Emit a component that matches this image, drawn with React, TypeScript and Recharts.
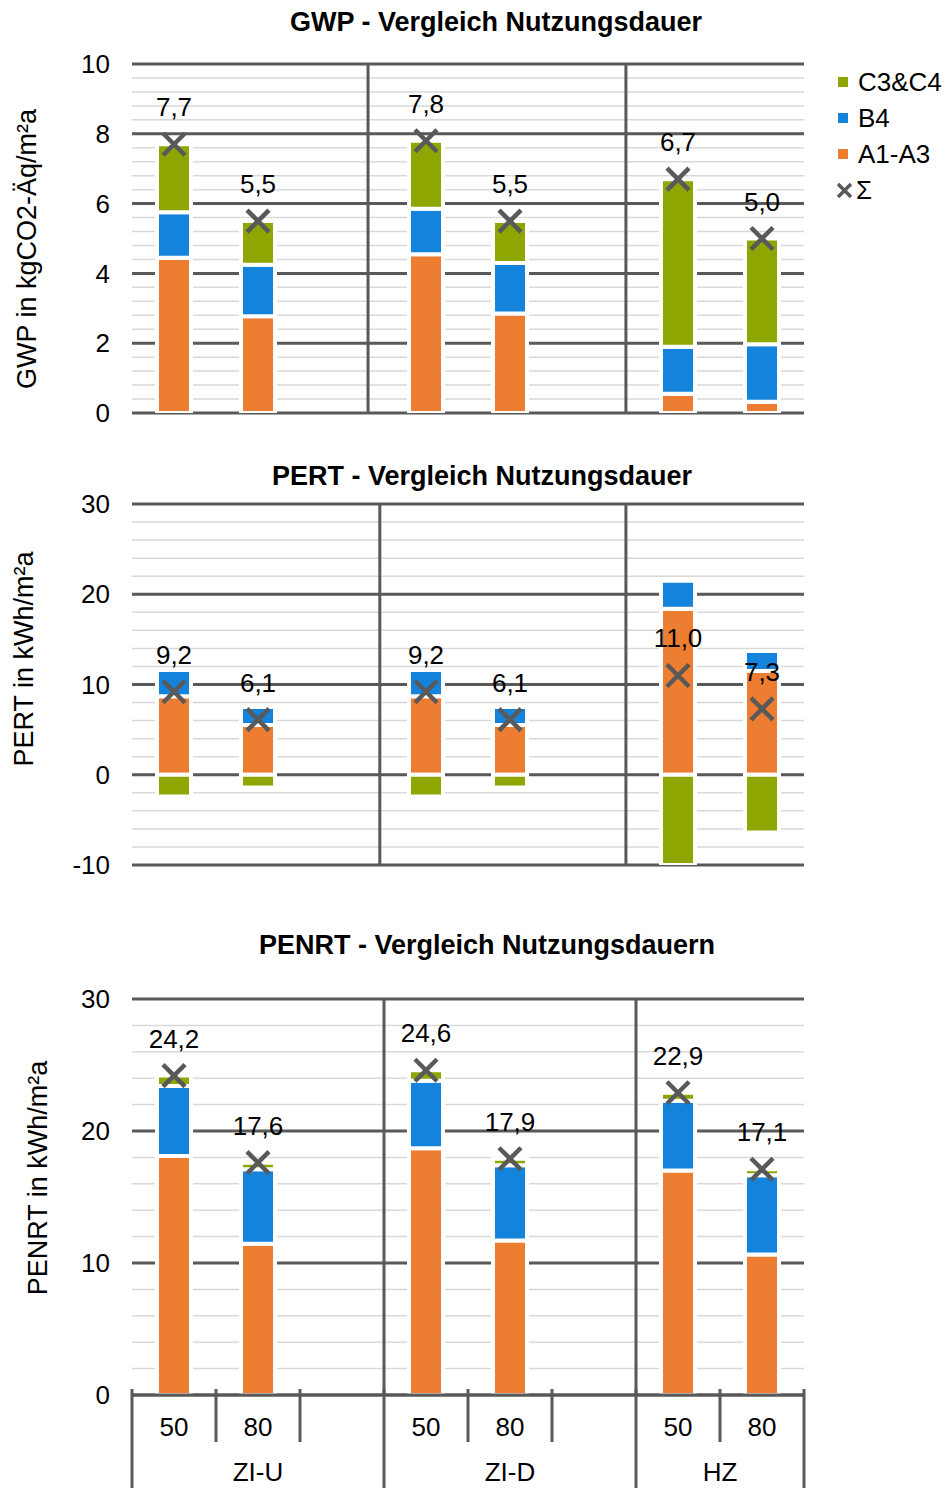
import React from "react";
import { ComposedChart, Bar, Scatter, XAxis, YAxis, CartesianGrid, ReferenceLine } from "recharts";

const FONT = "'Liberation Sans', Arial, Helvetica, sans-serif";
const ORANGE = "#ED7D31";
const BLUE = "#1383DB";
const GREEN = "#8FA500";
const DARK = "#595959";
const LIGHT = "#D9D9D9";

// eight slots along x: two durations per building type plus an empty spacer slot
const slots = ["ZI-U|50", "ZI-U|80", "ZI-U|", "ZI-D|50", "ZI-D|80", "ZI-D|", "HZ|50", "HZ|80"];
const groups = ["ZI-U", "ZI-D", "HZ"];
const groupCenters = [1.5, 4.5, 7];
const groupEdges = [0, 3, 6, 8];
const slotEdges = [0, 1, 2, 3, 4, 5, 6, 7, 8];

const seriesNames = { a: "A1-A3", b: "B4", c: "C3&C4" };

// GWP in kgCO2-Äq/m²a
const gwpA = [4.45, 2.77, null, 4.55, 2.85, null, 0.55, 0.32];
const gwpB = [1.3, 1.48, null, 1.3, 1.45, null, 1.35, 1.65];
const gwpC = [1.95, 1.25, null, 1.95, 1.2, null, 4.8, 3.03];
const gwpSum = [7.7, 5.5, null, 7.8, 5.5, null, 6.7, 5.0];
const gwpTicks = [0, 2, 4, 6, 8, 10];

// PERT in kWh/m²a
const pertA = [8.7, 5.5, null, 8.7, 5.5, null, 18.4, 11.5];
const pertB = [2.9, 2.0, null, 2.9, 2.0, null, 3.1, 2.2];
const pertC = [-2.4, -1.4, null, -2.4, -1.4, null, -10.5, -6.4];
const pertSum = [9.2, 6.1, null, 9.2, 6.1, null, 11.0, 7.3];
const pertTicks = [-10, 0, 10, 20, 30];

// PENRT in kWh/m²a
const penrtA = [18.1, 11.45, null, 18.7, 11.7, null, 17.0, 10.65];
const penrtB = [5.3, 5.65, null, 5.1, 5.7, null, 5.3, 6.0];
const penrtC = [0.8, 0.5, null, 0.8, 0.5, null, 0.6, 0.45];
const penrtSum = [24.2, 17.6, null, 24.6, 17.9, null, 22.9, 17.1];
const penrtTicks = [0, 10, 20, 30];

const fmt = (v: number) => v.toFixed(1).replace(".", ",");

function minorValues(domain: [number, number], step: number, majors: number[]) {
  const out: number[] = [];
  const n = Math.round((domain[1] - domain[0]) / step);
  for (let i = 0; i <= n; i++) {
    const v = Math.round((domain[0] + i * step) * 100) / 100;
    if (!majors.includes(v)) out.push(v);
  }
  return out;
}

function buildRows(a: (number | null)[], b: (number | null)[], c: (number | null)[], sum: (number | null)[]) {
  return slots.map((slot, i) => ({ slot, pos: i + 0.5, a: a[i], b: b[i], c: c[i], sum: sum[i] }));
}

const slotCenters = slots.map((_, i) => i + 0.5);
const frameTicks = Array.from(new Set([...slotEdges, ...slotCenters, ...groupCenters])).sort((x, y) => x - y);

function FrameTick(props: any) {
  const { x, y, payload } = props;
  const v = payload.value;
  const si = slotCenters.indexOf(v);
  const gi = groupCenters.indexOf(v);
  const slotLabel = si >= 0 ? slots[si].split("|")[1] : "";
  return (
    <g>
      {slotEdges.includes(v) && (
        <line x1={x} x2={x} y1={y - 6} y2={y + (groupEdges.includes(v) ? 93 : 47)} stroke={DARK} strokeWidth={3} />
      )}
      {slotLabel && (
        <text x={x} y={y + 41} textAnchor="middle" fontSize={26} fontFamily={FONT} fill="#000">
          {slotLabel}
        </text>
      )}
      {gi >= 0 && (
        <text x={x} y={y + 86} textAnchor="middle" fontSize={26} fontFamily={FONT} fill="#000">
          {groups[gi]}
        </text>
      )}
    </g>
  );
}

function SumMarker(props: any) {
  const { cx, cy, payload } = props;
  if (!payload || payload.sum == null || !Number.isFinite(cx) || !Number.isFinite(cy)) return <g />;
  const r = 11;
  return (
    <g>
      <path
        d={`M${cx - r},${cy - r}L${cx + r},${cy + r}M${cx - r},${cy + r}L${cx + r},${cy - r}`}
        stroke={DARK}
        strokeWidth={4.5}
        fill="none"
      />
      <text x={cx} y={cy - 28} textAnchor="middle" fontSize={26} fontFamily={FONT} fill="#000">
        {fmt(payload.sum)}
      </text>
    </g>
  );
}

type PanelProps = {
  top: number;
  height: number;
  marginTop: number;
  marginBottom: number;
  title: string;
  titleX: number;
  titleY: number;
  yLabel: string;
  yLabelX: number;
  yLabelY: number;
  domain: [number, number];
  ticks: number[];
  minorStep: number;
  rows: any[];
  separators: number[];
  showAxis: boolean;
};

function Panel(p: PanelProps) {
  const minors = minorValues(p.domain, p.minorStep, p.ticks);
  return (
    <>
      <div
        style={{
          position: "absolute",
          left: p.titleX - 300,
          top: p.titleY - 15,
          width: 600,
          lineHeight: "30px",
          textAlign: "center",
          fontFamily: FONT,
          fontWeight: "bold",
          fontSize: 27,
          color: "#000",
        }}
      >
        {p.title}
      </div>
      <div
        style={{
          position: "absolute",
          left: p.yLabelX,
          top: p.yLabelY,
          transform: "translate(-50%, -50%) rotate(-90deg)",
          whiteSpace: "nowrap",
          fontFamily: FONT,
          fontSize: 27,
          lineHeight: "30px",
          color: "#000",
        }}
      >
        {p.yLabel}
      </div>
      <div style={{ position: "absolute", left: 0, top: p.top }}>
        <ComposedChart
          width={947}
          height={p.height}
          data={p.rows}
          stackOffset="sign"
          margin={{ top: p.marginTop, right: 143, bottom: p.marginBottom, left: 0 }}
        >
          <XAxis xAxisId="slot" dataKey="slot" type="category" hide />
          <XAxis
            xAxisId="frame"
            dataKey="pos"
            type="number"
            domain={[0, 8]}
            allowDataOverflow
            ticks={frameTicks}
            interval={0}
            hide={!p.showAxis}
            height={93}
            tickSize={0}
            tickMargin={0}
            tickLine={false}
            axisLine={{ stroke: DARK, strokeWidth: 3 }}
            tick={<FrameTick />}
          />
          <YAxis
            yAxisId="v"
            type="number"
            domain={p.domain}
            ticks={p.ticks}
            allowDataOverflow
            interval={0}
            width={132}
            tickSize={0}
            tickMargin={22}
            tickLine={false}
            axisLine={false}
            tick={{ fontSize: 26, fill: "#000", fontFamily: FONT }}
          />
          <CartesianGrid xAxisId="slot" yAxisId="v" vertical={false} horizontalValues={minors} stroke={LIGHT} strokeWidth={1.5} />
          <CartesianGrid xAxisId="slot" yAxisId="v" vertical={false} horizontalValues={p.ticks} stroke={DARK} strokeWidth={3} />
          {p.separators.map((s) => (
            <ReferenceLine key={s} xAxisId="frame" yAxisId="v" x={s} stroke={DARK} strokeWidth={3} />
          ))}
          <Bar xAxisId="slot" yAxisId="v" dataKey="a" name={seriesNames.a} stackId="s" fill={ORANGE} stroke="#fff" strokeWidth={4} barSize={34} isAnimationActive={false} />
          <Bar xAxisId="slot" yAxisId="v" dataKey="b" name={seriesNames.b} stackId="s" fill={BLUE} stroke="#fff" strokeWidth={4} barSize={34} isAnimationActive={false} />
          <Bar xAxisId="slot" yAxisId="v" dataKey="c" name={seriesNames.c} stackId="s" fill={GREEN} stroke="#fff" strokeWidth={4} barSize={34} isAnimationActive={false} />
          <Scatter xAxisId="slot" yAxisId="v" dataKey="sum" name="Σ" shape={<SumMarker />} isAnimationActive={false} />
        </ComposedChart>
      </div>
    </>
  );
}

function Legend() {
  const items = [
    { name: seriesNames.c, color: GREEN },
    { name: seriesNames.b, color: BLUE },
    { name: seriesNames.a, color: ORANGE },
  ];
  const row = { display: "flex", alignItems: "center", height: 36 } as const;
  return (
    <div style={{ position: "absolute", left: 836, top: 64, fontFamily: FONT, fontSize: 26, color: "#000" }}>
      {items.map((it) => (
        <div key={it.name} style={row}>
          <span style={{ display: "inline-block", width: 10, height: 10, background: it.color, marginLeft: 2, marginRight: 10 }} />
          <span>{it.name}</span>
        </div>
      ))}
      <div style={row}>
        <svg width={17} height={17} style={{ marginRight: 3 }}>
          <path d="M2,2L15,15M2,15L15,2" stroke={DARK} strokeWidth={3.5} />
        </svg>
        <span>Σ</span>
      </div>
    </div>
  );
}

export default function App() {
  return (
    <div style={{ position: "absolute", left: 0, top: 0, width: 947, height: 1488, background: "#fff", overflow: "hidden" }}>
      <Panel
        top={0}
        height={440}
        marginTop={64}
        marginBottom={27}
        title="GWP - Vergleich Nutzungsdauer"
        titleX={496}
        titleY={22}
        yLabel="GWP in kgCO2-Äq/m²a"
        yLabelX={27}
        yLabelY={249}
        domain={[0, 10]}
        ticks={gwpTicks}
        minorStep={0.4}
        rows={buildRows(gwpA, gwpB, gwpC, gwpSum)}
        separators={[2.81, 5.88]}
        showAxis={false}
      />
      <Panel
        top={440}
        height={450}
        marginTop={64}
        marginBottom={25}
        title="PERT - Vergleich Nutzungsdauer"
        titleX={482}
        titleY={476}
        yLabel="PERT in kWh/m²a"
        yLabelX={24}
        yLabelY={659}
        domain={[-10, 30]}
        ticks={pertTicks}
        minorStep={2}
        rows={buildRows(pertA, pertB, pertC, pertSum)}
        separators={[2.95, 5.88]}
        showAxis={false}
      />
      <Panel
        top={890}
        height={598}
        marginTop={109}
        marginBottom={0}
        title="PENRT - Vergleich Nutzungsdauern"
        titleX={487}
        titleY={945}
        yLabel="PENRT in kWh/m²a"
        yLabelX={38}
        yLabelY={1178}
        domain={[0, 30]}
        ticks={penrtTicks}
        minorStep={2}
        rows={buildRows(penrtA, penrtB, penrtC, penrtSum)}
        separators={[3, 6]}
        showAxis={true}
      />
      <Legend />
    </div>
  );
}
